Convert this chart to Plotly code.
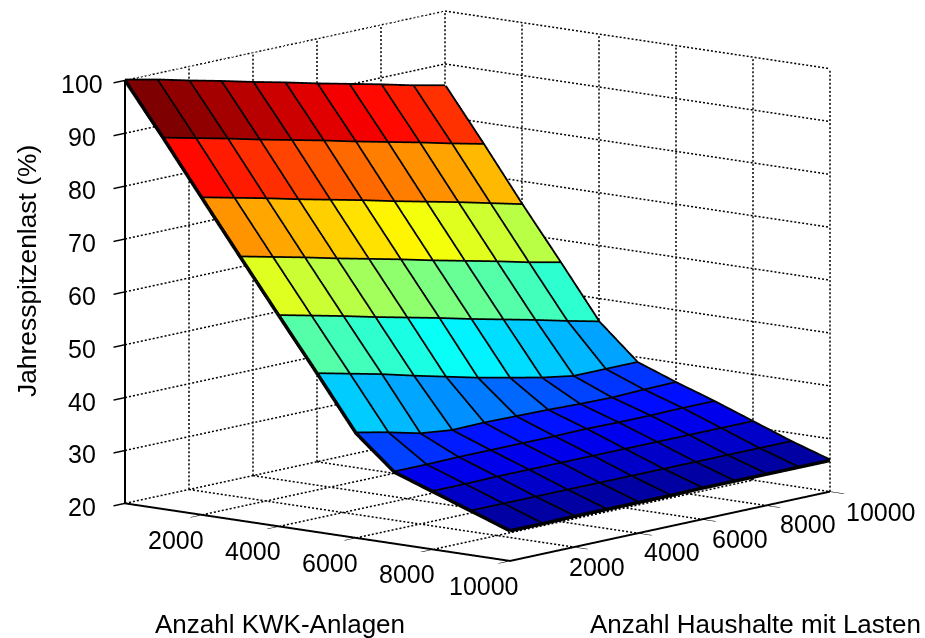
import numpy as np
import plotly.graph_objects as go

kwk = [0, 1000, 2000, 3000, 4000, 5000, 6000, 7000, 8000, 9000, 10000]
haushalte = [0, 1000, 2000, 3000, 4000, 5000, 6000, 7000, 8000, 9000, 10000]
# rows: KWK index, columns: Haushalte index
last = [
    [100.0, 98.7, 97.2, 95.8, 94.3, 92.9, 91.4, 90.0, 88.6, 87.1, 85.8],
    [90.1, 88.7, 87.3, 85.8, 84.4, 83.0, 81.5, 80.1, 78.7, 77.2, 75.8],
    [79.9, 78.5, 77.1, 75.6, 74.2, 72.8, 71.3, 69.9, 68.5, 67.0, 65.5],
    [69.8, 68.4, 67.0, 65.5, 64.1, 62.7, 61.2, 59.8, 58.4, 56.9, 55.6],
    [59.8, 58.4, 57.0, 55.5, 54.1, 52.7, 51.2, 49.8, 48.4, 46.9, 45.5],
    [49.9, 48.5, 47.1, 45.5, 44.0, 42.5, 41.2, 39.9, 38.9, 38.9, 38.9],
    [39.8, 38.5, 37.0, 36.3, 36.4, 36.3, 36.2, 36.0, 35.9, 36.1, 36.2],
    [33.5, 33.5, 33.6, 33.6, 33.6, 33.6, 33.7, 33.6, 33.6, 33.7, 33.7],
    [30.9, 30.9, 31.0, 31.0, 31.0, 31.0, 31.0, 31.0, 31.0, 31.0, 31.0],
    [28.3, 28.3, 28.3, 28.3, 28.3, 28.3, 28.3, 28.3, 28.3, 28.3, 28.3],
    [25.7, 25.7, 25.8, 25.8, 25.8, 25.8, 25.9, 25.9, 25.9, 25.9, 25.9],
]
xticks = [2000, 4000, 6000, 8000, 10000]
yticks = [2000, 4000, 6000, 8000, 10000]
zticks = [20, 30, 40, 50, 60, 70, 80, 90, 100]
XMAX, YMAX, ZMIN, ZMAX = 10000, 10000, 20, 100

FONT = "Liberation Sans"
TICK_SIZE = 25
FIG_W, FIG_H = 925, 638

Z = np.array(last)
nx, ny = Z.shape


def jet(t):
    t = min(max(t, 0.0), 1.0)
    f = lambda a: min(max(1.5 - abs(4 * t - a), 0.0), 1.0)
    r, g, b = f(3), f(2), f(1)
    return "rgb(%d,%d,%d)" % (r * 255, g * 255, b * 255)


vx, vy, vz = [], [], []
for a in range(nx):
    for b in range(ny):
        vx.append(kwk[a]); vy.append(haushalte[b]); vz.append(last[a][b])

ti, tj, tk, fc = [], [], [], []
zmin, zmax = Z.min(), Z.max()
for a in range(nx - 1):
    for b in range(ny - 1):
        p = a * ny + b
        col = jet((Z[a, b] - zmin) / (zmax - zmin))
        ti += [p, p]; tj += [p + 1, p + ny + 1]; tk += [p + ny + 1, p + ny]
        fc += [col, col]

fig = go.Figure()


def add_lines(segs, width, color="black"):
    xs, ys, zs = [], [], []
    for s in segs:
        for pt in s:
            xs.append(pt[0]); ys.append(pt[1]); zs.append(pt[2])
        xs.append(None); ys.append(None); zs.append(None)
    fig.add_trace(go.Scatter3d(x=xs, y=ys, z=zs, mode="lines", hoverinfo="skip",
                               showlegend=False, line=dict(color=color, width=width)))


# projected pixel length of a full axis, used only to space the dots of the grid
PX = np.array([np.hypot(385, 58), np.hypot(320, 69), 423.0])
SPAN = np.array([XMAX, YMAX, ZMAX - ZMIN], float)
PERIOD = 4.0


def dotted(p, q):
    p, q = np.array(p, float), np.array(q, float)
    length = np.sum(np.abs(q - p) / SPAN * PX)
    n = int(length / PERIOD)
    out = []
    for i in range(n):
        a = p + (q - p) * i / n
        b = p + (q - p) * (i + 0.5) / n
        out.append([tuple(a), tuple(b)])
    return out


gx = [0] + xticks
gy = [0] + yticks
segs = []
for v in gx:
    segs += dotted((v, 0, ZMIN), (v, YMAX, ZMIN))
    segs += dotted((v, YMAX, ZMIN), (v, YMAX, ZMAX))
for v in gy:
    segs += dotted((0, v, ZMIN), (XMAX, v, ZMIN))
    segs += dotted((0, v, ZMIN), (0, v, ZMAX))
for v in zticks:
    segs += dotted((0, 0, v), (0, YMAX, v))
    segs += dotted((0, YMAX, v), (XMAX, YMAX, v))
add_lines(segs, 3)

fig.add_trace(go.Mesh3d(x=vx, y=vy, z=vz, i=ti, j=tj, k=tk, facecolor=fc,
                        flatshading=True, hoverinfo="skip", showscale=False,
                        lighting=dict(ambient=1, diffuse=0, specular=0, roughness=1, fresnel=0)))

segs = []
for a in range(nx):
    segs.append([(kwk[a], haushalte[b], last[a][b]) for b in range(ny)])
for b in range(ny):
    segs.append([(kwk[a], haushalte[b], last[a][b]) for a in range(nx)])
add_lines(segs, 7)

az = np.arctan2(320, 385)
el = np.arcsin(0.18)
UNIT = 319.0 * FIG_H / 638
ez = np.array([np.cos(el) * np.sin(az), -np.cos(el) * np.cos(az), np.sin(el)])
r_vec = np.array([np.cos(az), np.sin(az), 0])
u_vec = np.cross(ez, r_vec)
shift = -(15 / UNIT) * r_vec - (33 / UNIT) * u_vec
R = 3.0
center = shift
eye = shift + R * ez
axis_common = dict(showbackground=False, showgrid=False, zeroline=False, showline=True,
                   linecolor="black", linewidth=4, ticks="outside", tickcolor="black",
                   ticklen=18, tickwidth=3, showspikes=False, title=dict(text=""),
                   showticklabels=False)

tickfont = dict(family=FONT, size=TICK_SIZE, color="black")
# label offsets in pixels from the tick
x_shift = [(-26, -25)] * 5
y_shift = [(23, -20), (34, -19), (38, -20), (42, -19), (51, -20)]
ann3d = []
for v, (dx, dy) in zip(xticks, x_shift):
    ann3d.append(dict(x=v, y=0, z=ZMIN, text=str(v), showarrow=False, xshift=dx, yshift=dy, font=tickfont))
for v, (dx, dy) in zip(yticks, y_shift):
    ann3d.append(dict(x=XMAX, y=v, z=ZMIN, text=str(v), showarrow=False, xshift=dx, yshift=dy, font=tickfont))
for v in zticks:
    dx = -20 if v == 100 else -27
    ann3d.append(dict(x=0, y=0, z=v, text=str(v), showarrow=False, xanchor="right", xshift=dx, yshift=-4, font=tickfont))

titlefont = dict(family=FONT, size=26, color="black")
ytitlefont = dict(family=FONT, size=26.4, color="black")


def px(v):
    return v / FIG_W


def py(v):
    return 1 - v / FIG_H


fig.update_layout(
    width=FIG_W, height=FIG_H, margin=dict(l=0, r=0, t=0, b=0),
    paper_bgcolor="white", showlegend=False,
    scene=dict(
        domain=dict(x=[0, 1], y=[0, 1]),
        aspectmode="manual",
        aspectratio=dict(x=500.6 / UNIT, y=500.6 / UNIT, z=430 / UNIT),
        camera=dict(projection=dict(type="orthographic"),
                    eye=dict(x=eye[0], y=eye[1], z=eye[2]),
                    center=dict(x=center[0], y=center[1], z=center[2]),
                    up=dict(x=0, y=0, z=1)),
        xaxis=dict(range=[0, XMAX], tickvals=xticks, **axis_common),
        yaxis=dict(range=[0, YMAX], tickvals=yticks, **axis_common),
        zaxis=dict(range=[ZMIN, ZMAX], tickvals=zticks, **axis_common),
        annotations=ann3d,
    ),
    annotations=[
        dict(text="Anzahl KWK-Anlagen", x=px(280), y=py(624), xref="paper", yref="paper",
             xanchor="center", yanchor="middle", showarrow=False, font=titlefont),
        dict(text="Anzahl Haushalte mit Lasten", x=px(755), y=py(624), xref="paper", yref="paper",
             xanchor="center", yanchor="middle", showarrow=False, font=titlefont),
        dict(text="Jahresspitzenlast (%)", x=px(27), y=py(271), xref="paper", yref="paper", textangle=-90,
             xanchor="center", yanchor="middle", showarrow=False, font=ytitlefont),
    ],
)

fig.write_html("out.html", config={"displayModeBar": False},
               post_script="document.body.style.margin='0';")
